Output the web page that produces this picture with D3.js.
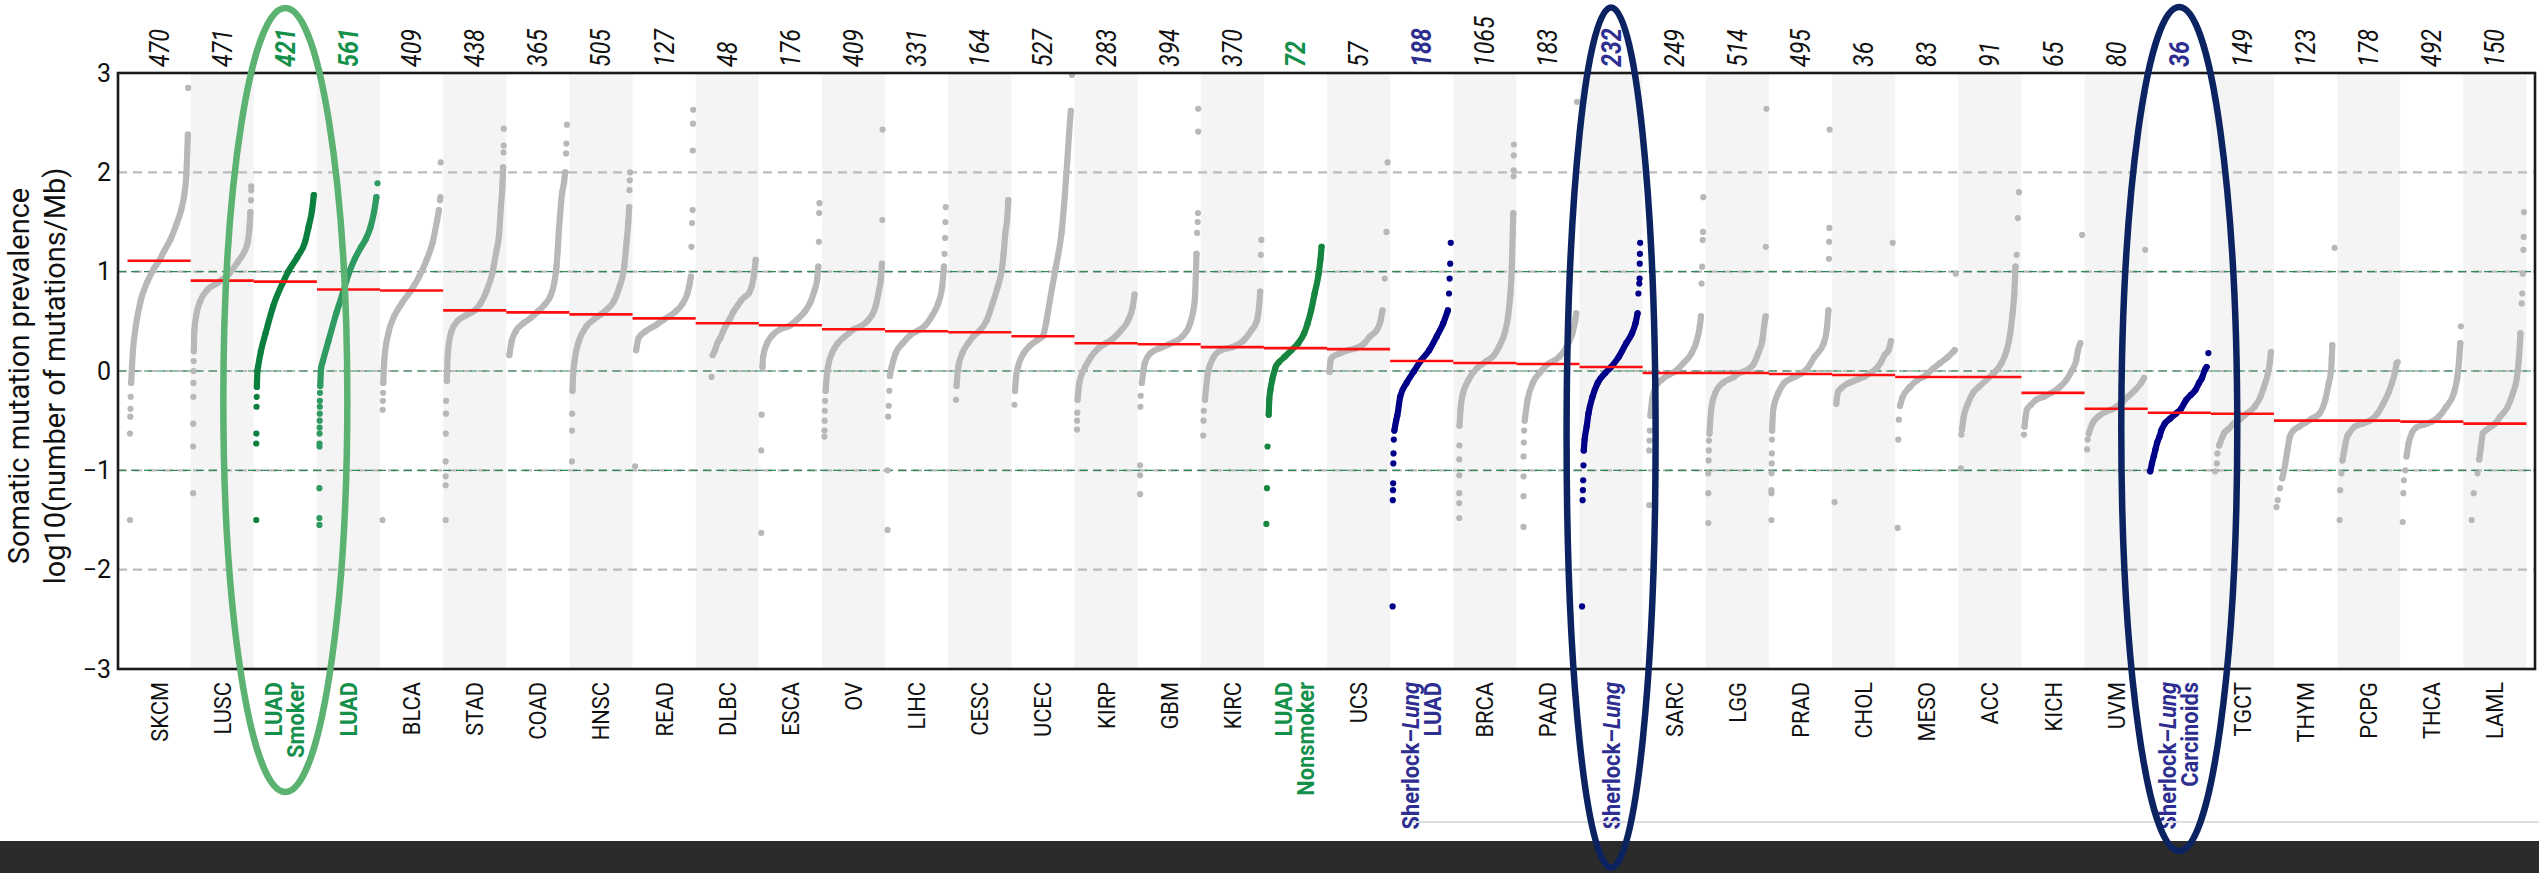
<!DOCTYPE html>
<html>
<head>
<meta charset="utf-8">
<script src="https://cdn.jsdelivr.net/npm/d3@7"></script>
<style>
  html, body { margin: 0; padding: 0; background: #ffffff; }
  svg { display: block; }
</style>
</head>
<body>
<svg id="chart" width="2539" height="873"></svg>
<script>
// ---- Cancer types, in plotted order (sorted by median burden) ----
const cancerTypes = ["SKCM","LUSC","LUAD_S","LUAD","BLCA","STAD","COAD","HNSC","READ","DLBC",
  "ESCA","OV","LIHC","CESC","UCEC","KIRP","GBM","KIRC","LUAD_NS","UCS",
  "SL_LUAD","BRCA","PAAD","SL","SARC","LGG","PRAD","CHOL","MESO","ACC",
  "KICH","UVM","SL_CARC","TGCT","THYM","PCPG","THCA","LAML"];

// Axis text for each type (one entry per line; *...* marks italic)
const labelLines = [["SKCM"],["LUSC"],["LUAD","Smoker"],["LUAD"],["BLCA"],["STAD"],["COAD"],["HNSC"],["READ"],["DLBC"],
  ["ESCA"],["OV"],["LIHC"],["CESC"],["UCEC"],["KIRP"],["GBM"],["KIRC"],["LUAD","Nonsmoker"],["UCS"],
  ["Sherlock–*Lung*","LUAD"],["BRCA"],["PAAD"],["Sherlock–*Lung*"],["SARC"],["LGG"],["PRAD"],["CHOL"],["MESO"],["ACC"],
  ["KICH"],["UVM"],["Sherlock–*Lung*","Carcinoids"],["TGCT"],["THYM"],["PCPG"],["THCA"],["LAML"]];

// Number of samples per type
const sampleCounts = [470,471,421,561,409,438,365,505,127,48,
  176,409,331,164,527,283,394,370,72,57,
  188,1065,183,232,249,514,495,36,83,91,
  65,80,36,149,123,178,492,150];

// Cohort of each type
const cohort = ["TCGA","TCGA","LUAD smoker","LUAD","TCGA","TCGA","TCGA","TCGA","TCGA","TCGA",
  "TCGA","TCGA","TCGA","TCGA","TCGA","TCGA","TCGA","TCGA","LUAD nonsmoker","TCGA",
  "Sherlock","TCGA","TCGA","Sherlock","TCGA","TCGA","TCGA","TCGA","TCGA","TCGA",
  "TCGA","TCGA","Sherlock","TCGA","TCGA","TCGA","TCGA","TCGA"];

// Median log10(mutations/Mb) per type
const medianBurden = [1.11,0.91,0.90,0.82,0.81,0.61,0.59,0.57,0.53,0.48,
  0.46,0.42,0.40,0.39,0.35,0.28,0.27,0.24,0.23,0.22,
  0.10,0.08,0.07,0.04,-0.02,-0.02,-0.03,-0.04,-0.06,-0.06,
  -0.22,-0.38,-0.42,-0.43,-0.50,-0.50,-0.51,-0.53];

// Sorted burden per type: [rank fraction, log10 mutations/Mb] along the dense part of each curve
const curveBody = [
  [[0.02,-0.12],[0.05,0.2],[0.1,0.45],[0.18,0.7],[0.3,0.9],[0.4,1.02],[0.5,1.11],[0.6,1.22],[0.7,1.33],[0.8,1.48],[0.88,1.62],[0.94,1.8],[0.97,1.98],[0.985,2.2],[0.995,2.38]],
  [[0.012,0.2],[0.02,0.4],[0.05,0.55],[0.12,0.7],[0.25,0.82],[0.4,0.88],[0.5,0.92],[0.62,0.98],[0.77,1.1],[0.88,1.2],[0.94,1.3],[0.97,1.45],[0.985,1.6]],
  [[0.01,-0.16],[0.02,0.0],[0.03,0.04],[0.08,0.2],[0.16,0.38],[0.29,0.65],[0.45,0.88],[0.55,1.0],[0.71,1.15],[0.84,1.3],[0.9,1.45],[0.96,1.62],[0.99,1.77]],
  [[0.015,-0.15],[0.03,0.03],[0.06,0.1],[0.16,0.31],[0.29,0.58],[0.4,0.78],[0.51,0.99],[0.61,1.13],[0.72,1.25],[0.8,1.33],[0.88,1.45],[0.94,1.6],[0.98,1.75]],
  [[0.013,-0.12],[0.03,0.11],[0.1,0.38],[0.2,0.55],[0.33,0.68],[0.49,0.81],[0.63,0.95],[0.76,1.12],[0.86,1.29],[0.94,1.52],[0.97,1.62]],
  [[0.02,-0.1],[0.04,0.2],[0.1,0.4],[0.2,0.5],[0.35,0.56],[0.5,0.61],[0.6,0.68],[0.7,0.8],[0.8,0.98],[0.87,1.2],[0.92,1.38],[0.95,1.65],[0.975,1.85],[0.99,2.05]],
  [[0.01,0.16],[0.05,0.3],[0.12,0.4],[0.25,0.48],[0.37,0.53],[0.5,0.6],[0.62,0.67],[0.72,0.76],[0.78,0.88],[0.82,1.05],[0.84,1.2],[0.86,1.4],[0.88,1.55],[0.9,1.7],[0.92,1.8],[0.95,1.9],[0.97,2.0]],
  [[0.01,-0.2],[0.02,-0.05],[0.05,0.12],[0.12,0.3],[0.25,0.45],[0.38,0.52],[0.5,0.57],[0.6,0.62],[0.72,0.7],[0.82,0.85],[0.9,1.05],[0.94,1.3],[0.97,1.5],[0.985,1.65]],
  [[0.02,0.21],[0.06,0.33],[0.18,0.4],[0.35,0.46],[0.5,0.52],[0.7,0.6],[0.82,0.68],[0.9,0.78],[0.94,0.88],[0.96,0.95]],
  [[0.25,0.16],[0.29,0.21],[0.33,0.28],[0.38,0.33],[0.43,0.4],[0.48,0.46],[0.55,0.53],[0.61,0.6],[0.68,0.66],[0.74,0.71],[0.81,0.75],[0.87,0.78],[0.92,0.85],[0.95,0.93],[0.99,1.12]],
  [[0.02,0.04],[0.03,0.14],[0.1,0.28],[0.19,0.36],[0.32,0.42],[0.5,0.46],[0.62,0.52],[0.75,0.6],[0.85,0.7],[0.92,0.82],[0.96,0.92],[0.98,1.05]],
  [[0.02,-0.2],[0.03,-0.12],[0.06,0.04],[0.13,0.18],[0.23,0.28],[0.42,0.38],[0.5,0.42],[0.62,0.45],[0.75,0.51],[0.88,0.65],[0.94,0.82],[0.97,0.92],[0.99,1.08]],
  [[0.04,-0.05],[0.07,0.04],[0.14,0.18],[0.26,0.28],[0.39,0.36],[0.5,0.4],[0.65,0.46],[0.77,0.56],[0.87,0.68],[0.94,0.85],[0.97,1.05]],
  [[0.1,-0.15],[0.13,0.04],[0.2,0.18],[0.3,0.28],[0.39,0.35],[0.49,0.4],[0.62,0.51],[0.72,0.68],[0.81,0.85],[0.88,1.02],[0.91,1.18],[0.94,1.39],[0.97,1.52],[0.99,1.72]],
  [[0.02,-0.2],[0.04,-0.05],[0.07,0.04],[0.17,0.18],[0.27,0.25],[0.4,0.31],[0.5,0.35],[0.56,0.5],[0.62,0.71],[0.72,1.04],[0.82,1.39],[0.88,1.79],[0.92,2.12],[0.95,2.39],[0.98,2.62]],
  [[0.01,-0.29],[0.04,-0.12],[0.14,0.04],[0.24,0.14],[0.37,0.23],[0.5,0.28],[0.63,0.33],[0.76,0.41],[0.88,0.51],[0.96,0.65],[0.99,0.77]],
  [[0.03,-0.12],[0.08,0.08],[0.18,0.18],[0.34,0.23],[0.5,0.27],[0.73,0.35],[0.86,0.48],[0.94,0.71],[0.96,0.98],[0.97,1.18]],
  [[0.03,-0.29],[0.08,-0.02],[0.18,0.14],[0.31,0.21],[0.5,0.24],[0.7,0.31],[0.83,0.41],[0.92,0.5],[0.96,0.65],[0.98,0.8]],
  [[0.04,-0.44],[0.05,-0.29],[0.07,-0.19],[0.1,-0.09],[0.13,-0.02],[0.16,0.04],[0.22,0.09],[0.31,0.14],[0.43,0.21],[0.55,0.28],[0.65,0.38],[0.71,0.48],[0.77,0.61],[0.83,0.78],[0.9,0.98],[0.93,1.12],[0.95,1.25]],
  [[0,-0.01],[0.02,0.11],[0.05,0.14],[0.19,0.18],[0.32,0.21],[0.46,0.23],[0.6,0.28],[0.7,0.35],[0.81,0.41],[0.88,0.51],[0.91,0.61]],
  [[0.03,-0.6],[0.06,-0.5],[0.08,-0.45],[0.13,-0.26],[0.24,-0.12],[0.37,0.0],[0.48,0.1],[0.63,0.21],[0.76,0.35],[0.87,0.48],[0.95,0.61]],
  [[0.065,-0.55],[0.08,-0.4],[0.11,-0.26],[0.22,-0.09],[0.37,0.03],[0.53,0.1],[0.66,0.16],[0.75,0.25],[0.85,0.4],[0.9,0.55],[0.94,0.78],[0.965,1.05],[0.98,1.39],[0.99,1.59]],
  [[0.1,-0.5],[0.15,-0.29],[0.24,-0.12],[0.37,-0.01],[0.5,0.07],[0.69,0.14],[0.82,0.24],[0.92,0.38],[0.97,0.51],[0.985,0.58]],
  [[0.03,-0.8],[0.045,-0.69],[0.08,-0.56],[0.11,-0.43],[0.18,-0.26],[0.27,-0.12],[0.4,-0.02],[0.5,0.04],[0.63,0.14],[0.76,0.28],[0.86,0.38],[0.92,0.48],[0.955,0.58]],
  [[0.09,-0.45],[0.12,-0.29],[0.18,-0.16],[0.28,-0.09],[0.4,-0.04],[0.5,-0.01],[0.66,0.08],[0.8,0.18],[0.89,0.31],[0.94,0.45],[0.96,0.55]],
  [[0.02,-0.63],[0.05,-0.39],[0.12,-0.22],[0.25,-0.12],[0.44,-0.06],[0.5,-0.03],[0.63,0.0],[0.77,0.06],[0.86,0.18],[0.93,0.31],[0.96,0.45],[0.985,0.55]],
  [[0.012,-0.6],[0.03,-0.39],[0.12,-0.22],[0.22,-0.12],[0.4,-0.06],[0.5,-0.03],[0.61,0.02],[0.74,0.14],[0.9,0.28],[0.95,0.41],[0.98,0.61]],
  [[0.03,-0.33],[0.06,-0.21],[0.12,-0.17],[0.25,-0.12],[0.38,-0.09],[0.5,-0.06],[0.64,-0.01],[0.74,0.04],[0.8,0.09],[0.86,0.16],[0.93,0.21],[0.97,0.3]],
  [[0.04,-0.35],[0.08,-0.27],[0.21,-0.16],[0.34,-0.09],[0.47,-0.05],[0.6,0.02],[0.73,0.08],[0.86,0.14],[0.95,0.19],[0.98,0.21]],
  [[0.02,-0.59],[0.05,-0.46],[0.12,-0.33],[0.21,-0.22],[0.31,-0.16],[0.44,-0.09],[0.57,-0.02],[0.7,0.08],[0.79,0.21],[0.85,0.38],[0.89,0.58],[0.92,0.78],[0.94,1.05]],
  [[0.01,-0.56],[0.03,-0.46],[0.05,-0.39],[0.12,-0.34],[0.21,-0.29],[0.34,-0.26],[0.47,-0.22],[0.6,-0.17],[0.73,-0.09],[0.83,0.01],[0.9,0.11],[0.93,0.21],[0.97,0.28]],
  [[0.03,-0.63],[0.09,-0.53],[0.19,-0.46],[0.32,-0.41],[0.45,-0.38],[0.57,-0.33],[0.7,-0.26],[0.83,-0.19],[0.93,-0.12],[0.98,-0.07]],
  [[0,-1.01],[0.03,-0.93],[0.06,-0.86],[0.09,-0.79],[0.12,-0.72],[0.16,-0.66],[0.19,-0.6],[0.25,-0.53],[0.34,-0.48],[0.44,-0.43],[0.53,-0.38],[0.62,-0.29],[0.7,-0.24],[0.78,-0.19],[0.84,-0.12],[0.89,-0.07],[0.94,0.01],[0.97,0.04]],
  [[0.1,-0.75],[0.16,-0.66],[0.19,-0.62],[0.25,-0.59],[0.35,-0.53],[0.45,-0.49],[0.55,-0.44],[0.71,-0.36],[0.81,-0.26],[0.87,-0.16],[0.94,-0.02],[0.97,0.08],[0.99,0.19]],
  [[0.1,-1.08],[0.13,-1.0],[0.16,-0.9],[0.19,-0.79],[0.23,-0.66],[0.29,-0.6],[0.39,-0.56],[0.5,-0.52],[0.61,-0.48],[0.74,-0.43],[0.84,-0.29],[0.9,-0.12],[0.94,0.01],[0.95,0.11],[0.96,0.26]],
  [[0.05,-0.9],[0.08,-0.8],[0.13,-0.66],[0.16,-0.63],[0.26,-0.56],[0.39,-0.53],[0.52,-0.5],[0.65,-0.43],[0.74,-0.34],[0.84,-0.22],[0.9,-0.12],[0.95,-0.02],[0.98,0.08]],
  [[0.065,-0.86],[0.1,-0.73],[0.16,-0.62],[0.23,-0.57],[0.36,-0.54],[0.5,-0.51],[0.62,-0.46],[0.75,-0.36],[0.88,-0.22],[0.94,-0.06],[0.97,0.11],[0.99,0.28]],
  [[0.23,-0.89],[0.26,-0.76],[0.29,-0.63],[0.36,-0.59],[0.46,-0.55],[0.5,-0.53],[0.59,-0.46],[0.72,-0.36],[0.81,-0.22],[0.88,-0.06],[0.91,0.11],[0.94,0.38]]
];

// Isolated samples at the low and high ends of each curve: [rank fraction, log10 mutations/Mb]
const curveTails = [
  [[0,-1.5],[0,-0.63],[0.005,-0.46],[0.008,-0.38],[0.012,-0.26],[1,2.85]],
  [[0,-1.23],[0,-0.76],[0.002,-0.53],[0.004,-0.26],[0.006,-0.12],[0.008,0.0],[0.01,0.1],[0.995,1.72],[1,1.82],[1,1.86]],
  [[0,-1.5],[0,-0.73],[0.002,-0.63],[0.005,-0.36],[0.007,-0.26]],
  [[0,-1.55],[0,-1.48],[0,-1.18],[0.002,-0.76],[0.002,-0.73],[0.003,-0.63],[0.004,-0.57],[0.005,-0.5],[0.006,-0.43],[0.007,-0.36],[0.008,-0.3],[0.01,-0.22],[1,1.89]],
  [[0,-1.5],[0.003,-0.39],[0.006,-0.3],[0.009,-0.22],[0.99,1.72],[0.995,1.75],[1,2.1]],
  [[0,-1.5],[0,-1.15],[0,-1.06],[0,-0.91],[0.003,-0.63],[0.005,-0.43],[0.008,-0.3],[0.996,2.2],[0.998,2.27],[1,2.44]],
  [[0.985,2.19],[0.99,2.29],[1,2.48]],
  [[0,-0.91],[0.002,-0.6],[0.004,-0.43],[0.99,1.82],[0.995,1.92],[1,2.0]],
  [[0,-0.96],[0.97,1.25],[0.98,1.49],[0.99,1.62],[0.993,2.22],[0.996,2.49],[1,2.63]],
  [[0.23,-0.06]],
  [[0,-1.63],[0,-0.8],[0.005,-0.44],[0.99,1.3],[0.995,1.59],[1,1.69]],
  [[0,-0.66],[0,-0.6],[0.003,-0.5],[0.006,-0.4],[0.01,-0.3],[0.995,1.52],[1,2.43]],
  [[0,-1.6],[0,-1.0],[0.01,-0.46],[0.02,-0.35],[0.03,-0.2],[0.98,1.18],[0.99,1.34],[0.995,1.5],[1,1.65]],
  [[0.09,-0.29]],
  [[0.01,-0.34],[1,2.98]],
  [[0,-0.59],[0.003,-0.5],[0.006,-0.42]],
  [[0,-1.24],[0,-1.05],[0,-0.95],[0.005,-0.36],[0.01,-0.25],[0.98,1.39],[0.99,1.5],[0.995,1.59],[1,2.41],[1,2.64]],
  [[0,-0.65],[0.005,-0.5],[0.01,-0.4],[0.99,1.17],[1,1.32]],
  [[0,-1.54],[0.01,-1.18],[0.02,-0.76]],
  [[0.95,0.93],[0.98,1.4],[1,2.1]],
  [[0,-2.37],[0.003,-1.3],[0.006,-1.2],[0.009,-1.13],[0.012,-0.93],[0.015,-0.83],[0.02,-0.69],[0.97,0.78],[0.98,0.93],[0.99,1.08],[1,1.29]],
  [[0.06,-1.48],[0.06,-1.33],[0.06,-1.23],[0.06,-1.05],[0.06,-0.89],[0.062,-0.75],[0.995,1.96],[0.996,2.02],[0.998,2.17],[1,2.28]],
  [[0.08,-1.57],[0.08,-1.26],[0.08,-1.06],[0.08,-0.86],[0.085,-0.72],[0.09,-0.6],[1,2.71]],
  [[0,-2.37],[0.01,-1.3],[0.015,-1.2],[0.02,-1.1],[0.025,-0.95],[0.97,0.78],[0.985,0.88],[0.99,0.93],[0.993,1.08],[0.996,1.18],[1,1.29]],
  [[0.07,-1.35],[0.07,-0.8],[0.075,-0.7],[0.08,-0.6],[0.97,0.88],[0.98,1.05],[0.99,1.32],[0.995,1.4],[1,1.75]],
  [[0,-1.53],[0,-1.23],[0,-1.03],[0.005,-0.9],[0.008,-0.8],[0.01,-0.7],[0.99,1.25],[1,2.64]],
  [[0,-1.5],[0,-1.23],[0,-1.2],[0.003,-1.03],[0.005,-0.93],[0.007,-0.83],[0.009,-0.69],[0.99,1.13],[0.993,1.3],[0.996,1.44],[1,2.43]],
  [[0,-1.32],[1,1.29]],
  [[0,-1.58],[0.01,-0.69],[0.02,-0.49],[1,0.98]],
  [[0,-0.98],[0.01,-0.64],[0.96,1.17],[0.98,1.54],[1,1.8]],
  [[0,-0.64],[1,1.37]],
  [[0,-0.79],[0.01,-0.69],[1,1.22]],
  [[1,0.18]],
  [[0.03,-1.01],[0.06,-0.93],[0.07,-0.83]],
  [[0,-1.37],[0.02,-1.3],[0.06,-1.18],[1,1.24]],
  [[0,-1.5],[0.01,-1.2],[0.03,-1.03],[1,0.09]],
  [[0,-1.52],[0.01,-1.23],[0.02,-1.1],[0.045,-1.0],[1,0.45]],
  [[0.1,-1.5],[0.135,-1.23],[0.2,-1.03],[0.96,0.68],[0.97,0.78],[0.98,0.98],[0.99,1.22],[0.995,1.35],[1,1.6]]
];

const yTicks = [3, 2, 1, 0, -1, -2, -3];
const refLevels = [2, 1, 0, -1, -2];
const greenLevels = [1, 0, -1];
const yTitleLines = ["Somatic mutation prevalence", "log10(number of mutations/Mb)"];

// ---- styling ----
const FONT = "Roboto, 'Liberation Sans', Arial, sans-serif";
const pointColor = { "TCGA": "#b8b8b8", "LUAD smoker": "#0b7f3e", "LUAD": "#2f9a62",
  "LUAD nonsmoker": "#16853f", "Sherlock": "#000088" };
const textColor = { "TCGA": "#111111", "LUAD smoker": "#14904a", "LUAD": "#14904a",
  "LUAD nonsmoker": "#14904a", "Sherlock": "#2d2e8f" };

const frame = { left: 118, right: 2535, top: 73, bottom: 669 };
const svg = d3.select("#chart").style("font-family", FONT);

const x = d3.scaleBand().domain(cancerTypes).range([127.5, 2526.5]);
const y = d3.scaleLinear().domain([-3, 3]).range([frame.bottom, frame.top]);
const bw = x.bandwidth();

// alternating column shading
svg.append("g").selectAll("rect")
  .data(cancerTypes.filter((d, i) => i % 2 === 1))
  .join("rect")
  .attr("x", d => x(d)).attr("y", frame.top)
  .attr("width", bw).attr("height", frame.bottom - frame.top)
  .attr("fill", "#f4f4f4");

// reference levels
const grid = svg.append("g");
grid.selectAll("line.ref").data(refLevels).join("line").attr("class", "ref")
  .attr("x1", frame.left).attr("x2", frame.right)
  .attr("y1", d => y(d)).attr("y2", d => y(d))
  .attr("stroke", "#bcbcbc").attr("stroke-width", 2.2).attr("stroke-dasharray", "9,6");
grid.selectAll("line.green").data(greenLevels).join("line").attr("class", "green")
  .attr("x1", frame.left).attr("x2", frame.right)
  .attr("y1", d => y(d)).attr("y2", d => y(d))
  .attr("stroke", "#2e8b57").attr("stroke-width", 1.2).attr("stroke-dasharray", "8,5");

// sorted sample curves
const pts = svg.append("g");
cancerTypes.forEach((name, i) => {
  const inner = d3.scaleLinear().domain([0, 1]).range([x(name) + 2.5, x(name) + bw - 2.5]);
  const col = pointColor[cohort[i]];
  const line = d3.line().x(d => inner(d[0])).y(d => y(d[1])).curve(d3.curveMonotoneX);
  const g = pts.append("g");
  g.append("path").datum(curveBody[i])
    .attr("d", line).attr("fill", "none").attr("stroke", col)
    .attr("stroke-width", 6.2).attr("stroke-linecap", "round").attr("stroke-linejoin", "round");
  g.selectAll("circle").data(curveBody[i].concat(curveTails[i])).join("circle")
    .attr("cx", d => inner(d[0])).attr("cy", d => y(d[1])).attr("r", 3.1).attr("fill", col);
});

// median per type
svg.append("g").selectAll("line").data(cancerTypes).join("line")
  .attr("x1", d => x(d)).attr("x2", d => x(d) + bw)
  .attr("y1", (d, i) => y(medianBurden[i])).attr("y2", (d, i) => y(medianBurden[i]))
  .attr("stroke", "#ff1010").attr("stroke-width", 2.6);

// frame
svg.append("rect")
  .attr("x", frame.left).attr("y", frame.top)
  .attr("width", frame.right - frame.left).attr("height", frame.bottom - frame.top)
  .attr("fill", "none").attr("stroke", "#1a1a1a").attr("stroke-width", 2.6);

// y axis labels
const yAxis = svg.append("g").attr("transform", `translate(${frame.left},0)`)
  .call(d3.axisLeft(y).tickValues(yTicks).tickSize(0).tickPadding(7).tickFormat(d3.format("d")));
yAxis.select(".domain").remove();
yAxis.selectAll("text").attr("font-size", 25).attr("fill", "#111").style("font-family", FONT);

// y title
svg.append("g").selectAll("text").data(yTitleLines).join("text")
  .attr("transform", (d, i) => `translate(${29 + i * 36},376) rotate(-90)`)
  .attr("text-anchor", "middle").attr("font-size", 29).attr("fill", "#111")
  .text(d => d);

// sample counts along the top
svg.append("g").selectAll("text").data(cancerTypes).join("text")
  .attr("transform", d => `translate(${x(d) + bw / 2 + 9.5},67) rotate(-90) scale(0.86,1)`)
  .attr("text-anchor", "start").attr("font-size", 27).attr("font-style", "italic")
  .attr("font-weight", (d, i) => cohort[i] === "TCGA" ? 400 : 700)
  .attr("fill", (d, i) => textColor[cohort[i]])
  .text((d, i) => sampleCounts[i]);

// type names below the axis
const lab = svg.append("g");
cancerTypes.forEach((name, i) => {
  const lines = labelLines[i];
  const cx = x(name) + bw / 2;
  const special = cohort[i] !== "TCGA";
  lines.forEach((ln, j) => {
    const off = lines.length === 1 ? 8.5 : (j === 0 ? -3 : 19);
    const t = lab.append("text")
      .attr("transform", `translate(${cx + off},682) rotate(-90) scale(0.93,1)`)
      .attr("text-anchor", "end").attr("font-size", 23.5)
      .attr("font-weight", special ? 700 : 400)
      .attr("fill", textColor[cohort[i]]);
    ln.split("*").forEach((part, k) => {
      if (!part) return;
      t.append("tspan").attr("font-style", k % 2 === 1 ? "italic" : "normal").text(part);
    });
  });
});

// page strip at the bottom
svg.append("line").attr("x1", 1413).attr("x2", 2539).attr("y1", 822).attr("y2", 822)
  .attr("stroke", "#dedede").attr("stroke-width", 2);
svg.append("rect").attr("x", 0).attr("y", 841).attr("width", 2539).attr("height", 32)
  .attr("fill", "#2b2b2b");

// highlight rings around the lung cohorts
const rings = [
  { type: "LUAD_S", cy: 400, rx: 62, ry: 392, color: "#5cb270" },
  { type: "SL", cy: 437.5, rx: 44.5, ry: 430, color: "#0b2461" },
  { type: "SL_CARC", cy: 429, rx: 58, ry: 422, color: "#0b2461" }
];
svg.append("g").selectAll("ellipse").data(rings).join("ellipse")
  .attr("cx", d => x(d.type) + bw / 2)
  .attr("cy", d => d.cy).attr("rx", d => d.rx).attr("ry", d => d.ry)
  .attr("fill", "none").attr("stroke", d => d.color).attr("stroke-width", 6.5);
</script>
</body>
</html>
